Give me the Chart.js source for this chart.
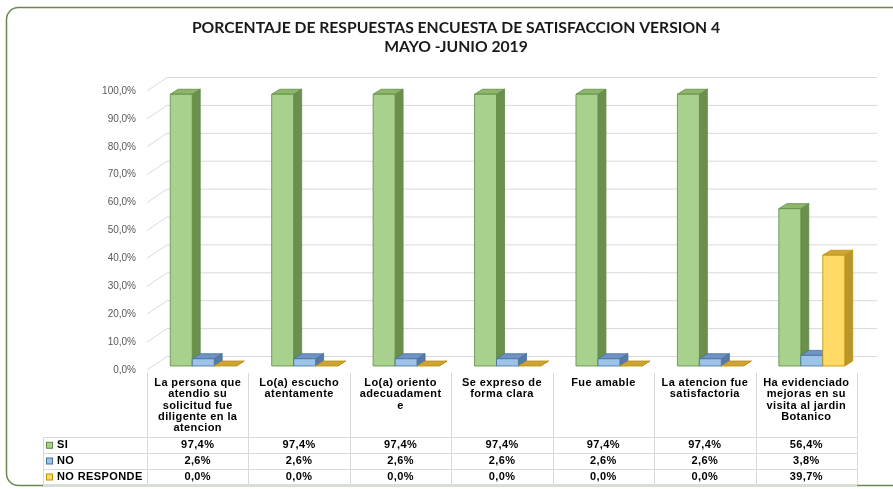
<!DOCTYPE html>
<html>
<head>
<meta charset="utf-8">
<script src="https://cdn.jsdelivr.net/npm/chart.js@4.4.1/dist/chart.umd.min.js"></script>
<style>
  body { margin: 0; background: #fff; }
  canvas { display: block; }
</style>
</head>
<body>
<canvas id="grafico" width="893" height="489"></canvas>
<script>
// Datos
const titulo = ['PORCENTAJE DE RESPUESTAS ENCUESTA DE SATISFACCION VERSION 4', 'MAYO -JUNIO 2019'];
const categorias = [
    ['La persona que', 'atendio su', 'solicitud fue', 'diligente en la', 'atencion'],
    ['Lo(a) escucho', 'atentamente'],
    ['Lo(a) oriento', 'adecuadament', 'e'],
    ['Se expreso de', 'forma clara'],
    ['Fue amable'],
    ['La atencion fue', 'satisfactoria'],
    ['Ha evidenciado', 'mejoras en su', 'visita al jardin', 'Botanico']
];
const serie_si = [97.4, 97.4, 97.4, 97.4, 97.4, 97.4, 56.4];
const serie_no = [2.6, 2.6, 2.6, 2.6, 2.6, 2.6, 3.8];
const serie_no_responde = [0.0, 0.0, 0.0, 0.0, 0.0, 0.0, 39.7];
const nombres_series = ['SI', 'NO', 'NO RESPONDE'];
const ticks_y = [0, 10, 20, 30, 40, 50, 60, 70, 80, 90, 100];

// colores de cada cara (frente, arriba, lado, borde)
const cores = [
    {frente: '#A9D18E', arriba: '#8DB66C', lado: '#6C8E4F', borde: '#5E8B3F'},
    {frente: '#9DC3E6', arriba: '#6F93C6', lado: '#5878A8', borde: '#41719C'},
    {frente: '#FFD966', arriba: '#CDA43A', lado: '#B8952F', borde: '#BF9000'}
];

function formato(v) {
    return v.toFixed(1).replace('.', ',') + '%';
}

// desplazamientos 3D respecto al plano de las barras
const frente = {dx: -5.5, dy: 4};
const fondo = {dx: 14.5, dy: -9.5};
const prof = {dx: 8, dy: -5};

const plugin3d = {
    id: 'barras3d',
    beforeDatasetsDraw(chart) {
        const ctx = chart.ctx;
        const area = chart.chartArea;
        const y = chart.scales.y;

        // paredes: lineas de la cuadricula
        ctx.save();
        ctx.strokeStyle = '#D9D9D9';
        ctx.lineWidth = 1;
        ticks_y.forEach(v => {
            const py = y.getPixelForValue(v);
            ctx.beginPath();
            ctx.moveTo(area.left + frente.dx, py + frente.dy);
            ctx.lineTo(area.left + fondo.dx, py + fondo.dy);
            ctx.lineTo(area.right + fondo.dx, py + fondo.dy);
            ctx.stroke();
        });
        ctx.restore();

        // barras
        const metas = chart.data.datasets.map((d, i) => chart.getDatasetMeta(i));
        const n = chart.data.labels.length;
        for (let c = 0; c < n; c++) {
            metas.forEach((meta, s) => {
                const bar = meta.data[c];
                const col = cores[s];
                const x0 = bar.x - bar.width / 2;
                const x1 = bar.x + bar.width / 2;
                const top = bar.y;
                const base = bar.base;
                ctx.save();
                ctx.lineWidth = 0.8;
                ctx.strokeStyle = col.borde;
                ctx.lineJoin = 'round';
                // lado
                ctx.beginPath();
                ctx.moveTo(x1, top);
                ctx.lineTo(x1 + prof.dx, top + prof.dy);
                ctx.lineTo(x1 + prof.dx, base + prof.dy);
                ctx.lineTo(x1, base);
                ctx.closePath();
                ctx.fillStyle = col.lado;
                ctx.fill();
                ctx.stroke();
                // arriba
                ctx.beginPath();
                ctx.moveTo(x0, top);
                ctx.lineTo(x1, top);
                ctx.lineTo(x1 + prof.dx, top + prof.dy);
                ctx.lineTo(x0 + prof.dx, top + prof.dy);
                ctx.closePath();
                ctx.fillStyle = col.arriba;
                ctx.fill();
                ctx.stroke();
                // frente
                if (base - top > 0.5) {
                    ctx.fillStyle = col.frente;
                    ctx.fillRect(x0, top, x1 - x0, base - top);
                    ctx.strokeRect(x0, top, x1 - x0, base - top);
                }
                ctx.restore();
            });
        }
        return false;
    },
    afterDraw(chart) {
        const ctx = chart.ctx;
        const area = chart.chartArea;
        const n = categorias.length;
        const izq = area.left + frente.dx;
        const der = area.right + frente.dx;
        const ancho = (der - izq) / n;

        ctx.save();
        // marco exterior
        ctx.strokeStyle = '#6A8752';
        ctx.lineWidth = 1.5;
        ctx.beginPath();
        ctx.roundRect(6.5, 7.5, 910, 478, 12);
        ctx.stroke();

        // titulo
        ctx.fillStyle = '#1a1a1a';
        ctx.textAlign = 'center';
        ctx.textBaseline = 'middle';
        ctx.font = 'bold 15.7px Lato';
        ctx.fillText(titulo[0], 456, 28);
        ctx.fillText(titulo[1], 456, 47);

        // tabla de datos
        const filas = [437, 452.5, 468.5, 484.5];
        ctx.strokeStyle = '#D9D9D9';
        ctx.lineWidth = 1;
        for (let i = 0; i <= n; i++) {
            const x = Math.round(izq + i * ancho) + 0.5;
            ctx.beginPath();
            ctx.moveTo(x, 373);
            ctx.lineTo(x, filas[3]);
            ctx.stroke();
        }
        ctx.beginPath();
        ctx.moveTo(43.5, filas[0]);
        ctx.lineTo(43.5, filas[3]);
        ctx.stroke();
        filas.forEach(f => {
            ctx.beginPath();
            ctx.moveTo(43, Math.round(f) + 0.5);
            ctx.lineTo(der, Math.round(f) + 0.5);
            ctx.stroke();
        });

        ctx.fillStyle = '#000';
        ctx.font = 'bold 11px "Liberation Sans"';
        ctx.letterSpacing = '0.4px';
        categorias.forEach((lineas, i) => {
            const cx = izq + (i + 0.5) * ancho;
            lineas.forEach((t, k) => ctx.fillText(t, cx, 383 + k * 11.3));
        });

        const series = [serie_si, serie_no, serie_no_responde];
        series.forEach((serie, s) => {
            const cy = (filas[s] + filas[s + 1]) / 2 + 0.5;
            serie.forEach((v, i) => {
                ctx.textAlign = 'center';
                ctx.fillText(formato(v), izq + (i + 0.5) * ancho, cy);
            });
            // leyenda
            ctx.fillStyle = cores[s].frente;
            ctx.fillRect(46.5, cy - 3, 6, 6);
            ctx.strokeStyle = cores[s].borde;
            ctx.strokeRect(46.5, cy - 3, 6, 6);
            ctx.fillStyle = '#000';
            ctx.textAlign = 'left';
            ctx.fillText(nombres_series[s], 57, cy);
        });
        ctx.restore();
    }
};

new Chart(document.getElementById('grafico'), {
    type: 'bar',
    data: {
        labels: categorias,
        datasets: [
            {label: nombres_series[0], data: serie_si, backgroundColor: cores[0].frente},
            {label: nombres_series[1], data: serie_no, backgroundColor: cores[1].frente},
            {label: nombres_series[2], data: serie_no_responde, backgroundColor: cores[2].frente}
        ]
    },
    options: {
        responsive: false,
        animation: false,
        categoryPercentage: 0.65,
        barPercentage: 1,
        layout: {padding: {left: 0, top: 87, right: 30.5, bottom: 123}},
        plugins: {
            legend: {display: false},
            title: {display: false},
            tooltip: {enabled: false}
        },
        scales: {
            x: {display: false},
            y: {
                min: 0,
                max: 100,
                afterFit: s => { s.width = 152.5; },
                grid: {display: false, drawTicks: false},
                border: {display: false},
                ticks: {
                    stepSize: 10,
                    padding: 16.5,
                    labelOffset: 4,
                    color: '#595959',
                    font: {family: 'Liberation Sans', size: 10},
                    callback: v => formato(v)
                }
            }
        }
    },
    plugins: [plugin3d]
});
</script>
</body>
</html>
